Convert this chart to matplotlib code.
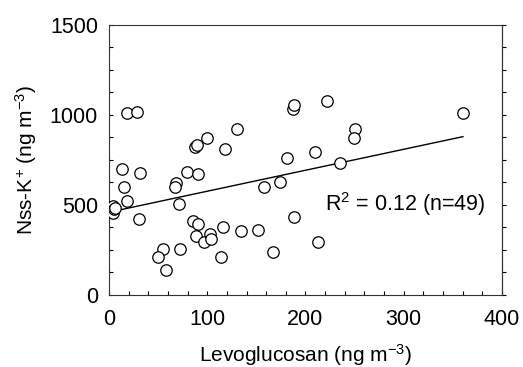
import matplotlib
matplotlib.use("Agg")
import matplotlib.pyplot as plt
import numpy as np

plt.rcParams['font.family'] = ['Liberation Sans', 'DejaVu Sans']
plt.rcParams['mathtext.fontset'] = 'custom'
plt.rcParams['mathtext.rm'] = 'Liberation Sans'
plt.rcParams['mathtext.it'] = 'Liberation Sans:italic'
plt.rcParams['mathtext.bf'] = 'Liberation Sans:bold'

levo = [18.6, 28.1, 13.6, 15.6, 18.3, 31.5, 30.5, 4.5, 3.7, 5.0, 6.0,
        67.8, 67.5, 71.2, 79.0, 87.5, 89.5, 90.5, 100.0, 117.6, 130.0,
        85.0, 90.5, 88.5, 96.6, 102.7, 103.4, 54.6, 50.2, 58.0, 72.2,
        113.6, 116.3, 133.9, 151.5, 166.8, 188.8, 157.6, 174.2, 181.4,
        187.5, 188.5, 222.0, 360.3, 250.8, 249.2, 209.2, 234.9, 212.9]
nssk = [1009, 1017, 698, 602, 520, 680, 422, 495, 455, 475, 482,
        624, 602, 504, 683, 824, 833, 674, 872, 813, 924,
        413, 394, 325, 296, 339, 309, 257, 213, 139, 257,
        213, 380, 357, 359, 239, 431, 598, 628, 759,
        1031, 1056, 1078, 1013, 922, 870, 793, 735, 293]

fit_intercept = 460.0
fit_slope = 1.165
r2_text = "R$^2$ = 0.12 (n=49)"

fig = plt.figure(figsize=(5.23, 3.67), dpi=100)
ax = fig.add_axes([0.2084, 0.1962, 0.7514, 0.7357])

ax.scatter(levo, nssk, s=68, facecolors='white', edgecolors='black',
           linewidths=0.9, zorder=3)

fx = np.array([min(levo), max(levo)])
ax.plot(fx, fit_intercept + fit_slope * fx, color='black', lw=1.0, zorder=2)

ax.set_xlim(0, 400)
ax.set_ylim(0, 1500)
ax.set_xticks([0, 100, 200, 300, 400])
ax.set_xticks(np.arange(0, 401, 20), minor=True)
ax.set_yticks([0, 500, 1000, 1500])
ax.set_yticks(np.arange(0, 1501, 125), minor=True)

ax.tick_params(axis='both', which='both', direction='in', length=3,
               width=0.8, labelsize=15.5, top=False, right=False)
ax.tick_params(axis='x', pad=10)
ax.tick_params(axis='y', pad=8)

sec = ax.secondary_yaxis('right')
sec.set_yticks(np.arange(0, 1501, 125))
sec.tick_params(direction='out', length=3, width=0.8, labelright=False)
sec.spines['right'].set_linewidth(0.8)
sec.spines['right'].set_color('#333333')

for sp in ax.spines.values():
    sp.set_linewidth(0.8)
    sp.set_color('#333333')

ax.set_xlabel("Levoglucosan (ng m$^{-3}$)", fontsize=15, labelpad=9)
ax.set_ylabel("Nss-K$^{+}$ (ng m$^{-3}$)", fontsize=15, labelpad=8)

ax.text(220, 505, r2_text, fontsize=15.5, ha='left', va='center')

fig.savefig("out.png", dpi=100)
